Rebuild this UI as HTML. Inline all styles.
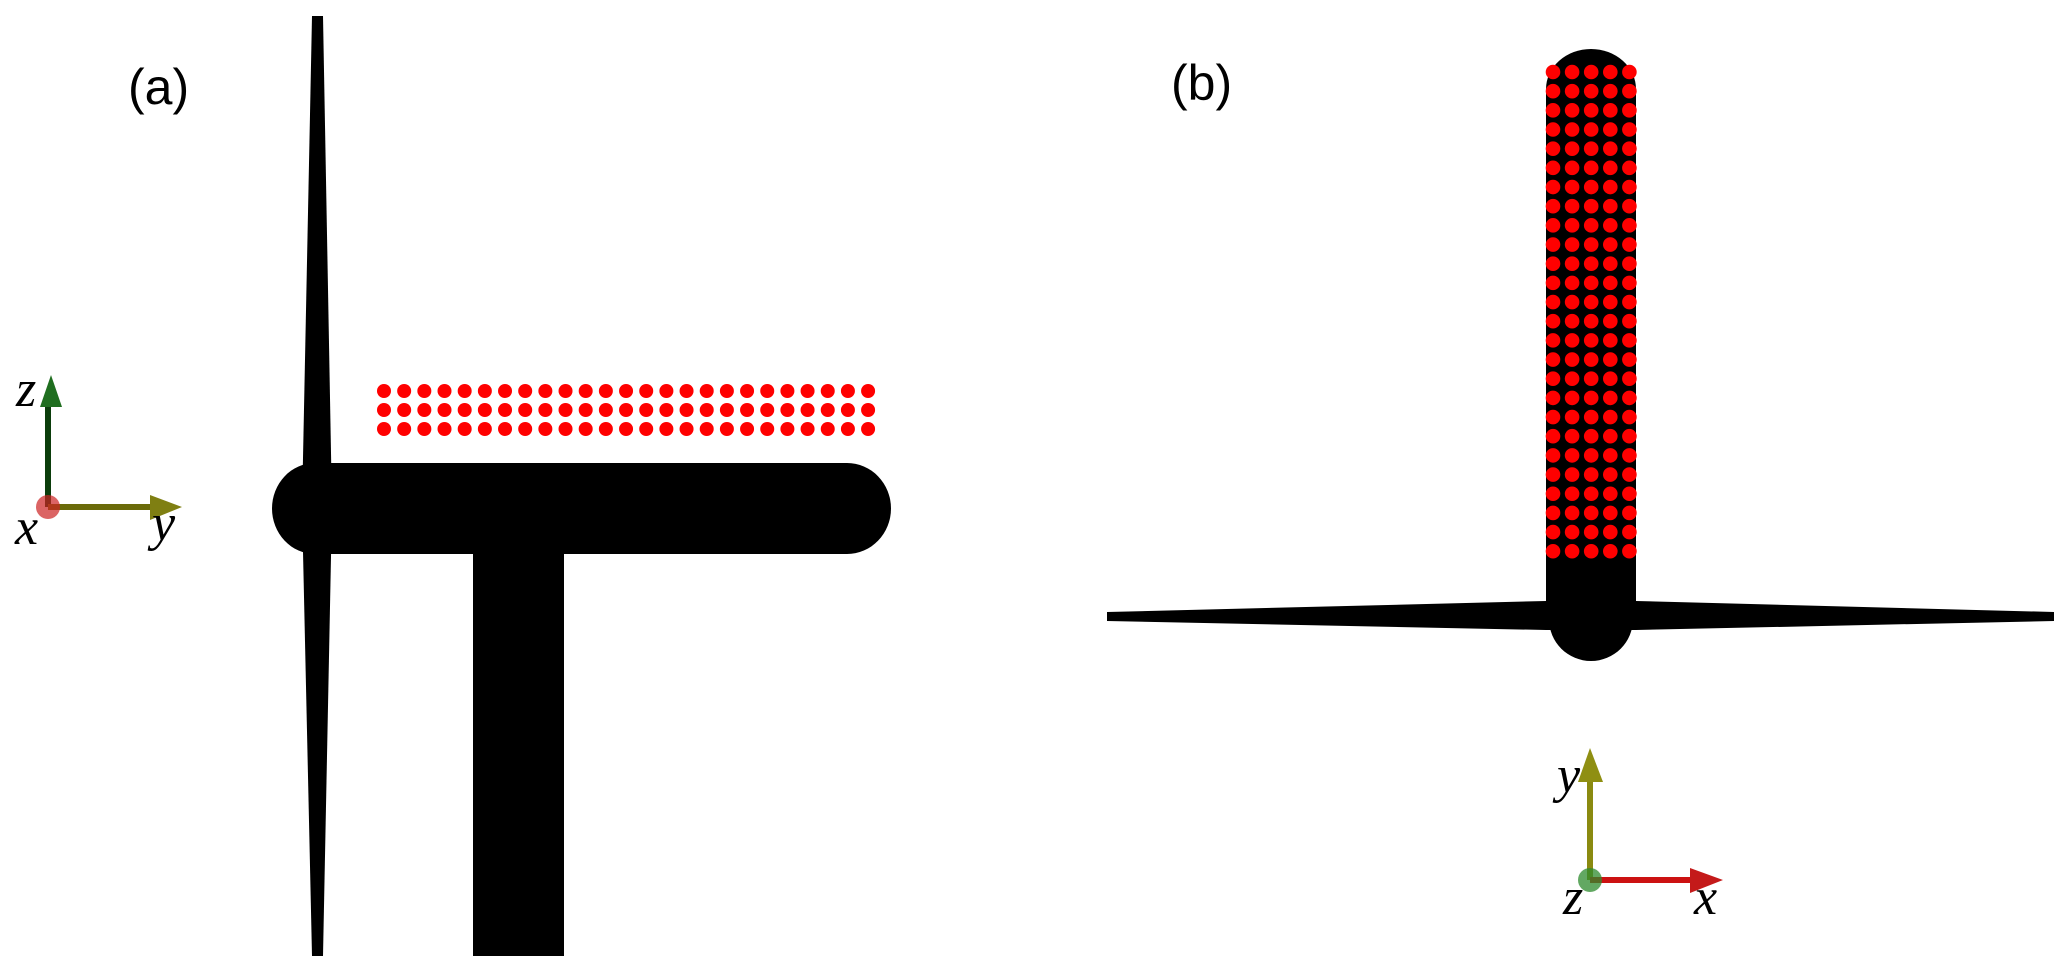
<!DOCTYPE html>
<html><head><meta charset="utf-8"><style>
html,body{margin:0;padding:0;background:#fff;}
svg{display:block;}
.lab{font-family:"Liberation Sans",sans-serif;font-size:50px;fill:#000;}
.m{font-family:"Liberation Serif",serif;font-style:italic;font-size:52px;fill:#000;}
</style></head><body>
<svg width="2067" height="976" viewBox="0 0 2067 976" xmlns="http://www.w3.org/2000/svg">
<rect width="2067" height="976" fill="#fff"/>
<text class="lab" x="128" y="104">(a)</text>
<rect x="473" y="550" width="91" height="406" fill="#000"/>
<path d="M315,463 L847,463 A44,45.5 0 0 1 847,554 L315,554 A43,45.5 0 0 1 315,463 Z" fill="#000"/>
<polygon points="312,16 323,16 332,507 323,956 312,956 302,507" fill="#000"/>
<g fill="#ff0000" id="dotsa"></g>
<rect x="45" y="405" width="6" height="102" fill="#0b3d0b"/>
<polygon points="51,375 40,407 62,407" fill="#1f6e1f"/>
<rect x="48" y="504" width="104" height="6" fill="#6b6b0a"/>
<polygon points="182,507 150,495 150,520" fill="#7f7f12"/>
<circle cx="48" cy="507" r="12" fill="#cc2222" fill-opacity="0.7"/>
<text class="m" x="16" y="406">z</text>
<text class="m" x="15" y="544">x</text>
<text class="m" x="152" y="540">y</text>
<text class="lab" x="1171" y="100">(b)</text>
<path d="M1546,89 A45,40 0 0 1 1636,89 L1636,615 L1546,615 Z" fill="#000"/>
<path d="M1549,619 L1633,619 A42,42 0 0 1 1549,619 Z" fill="#000"/>
<polygon points="1107,612 1546,601 1636,601 2054,612 2054,621 1636,630 1546,630 1107,621" fill="#000"/>
<g fill="#ff0000" id="dotsb"></g>
<rect x="1587" y="780" width="6" height="100" fill="#8a8a10"/>
<polygon points="1590,748 1578,782 1603,782" fill="#8f8f12"/>
<rect x="1590" y="877" width="102" height="6" fill="#cc1111"/>
<polygon points="1723,880 1690,868 1690,893" fill="#c41a1a"/>
<circle cx="1590" cy="880" r="12" fill="#2e8b2e" fill-opacity="0.75"/>
<text class="m" x="1557" y="792">y</text>
<text class="m" x="1563" y="914">z</text>
<text class="m" x="1694" y="914">x</text>
</svg>
<script>
(function(){
var ns="http://www.w3.org/2000/svg";
var a=document.getElementById("dotsa");
for(var r=0;r<3;r++)for(var c=0;c<25;c++){var e=document.createElementNS(ns,"circle");e.setAttribute("cx",384+c*20.17);e.setAttribute("cy",391+r*19);e.setAttribute("r",7);a.appendChild(e);}
var b=document.getElementById("dotsb");
for(var r=0;r<26;r++)for(var c=0;c<5;c++){var e=document.createElementNS(ns,"circle");e.setAttribute("cx",1553+c*19.1);e.setAttribute("cy",72+r*19.17);e.setAttribute("r",7.3);b.appendChild(e);}
})();
</script>
</body></html>
